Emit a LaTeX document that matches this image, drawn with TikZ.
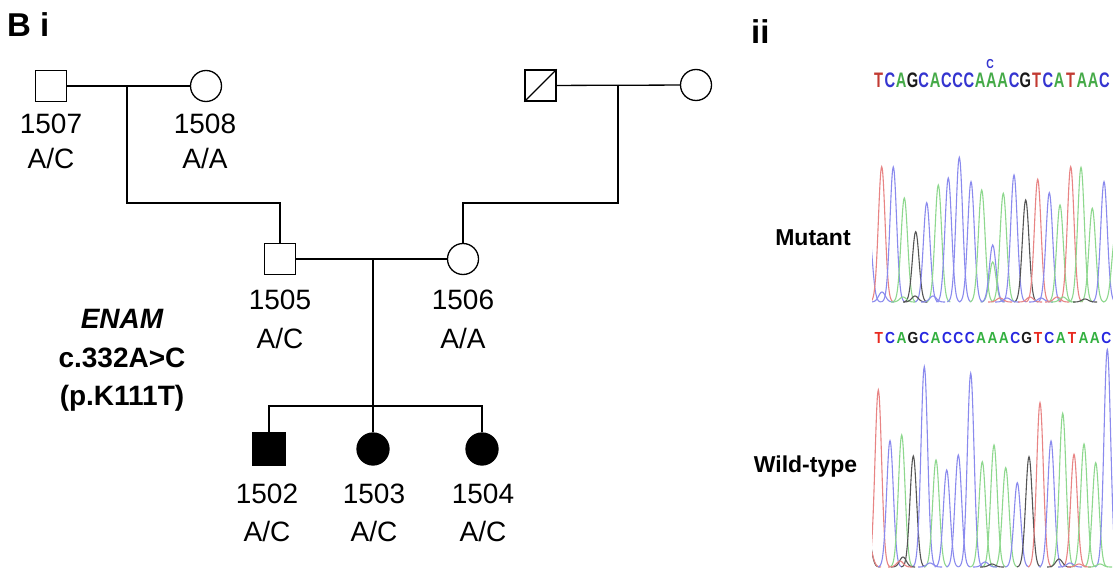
\documentclass[tikz,border=0pt]{standalone}
\usepackage{fontspec}
\setmainfont{Liberation Sans}
\usepackage{graphicx}
\definecolor{cr}{HTML}{E88484}
\definecolor{cb}{HTML}{8A8AEE}
\definecolor{cg}{HTML}{8ED88E}
\definecolor{ck}{HTML}{555555}
\definecolor{tr}{HTML}{C23A32}
\definecolor{tb}{HTML}{3535D0}
\definecolor{tg}{HTML}{45AA48}
\definecolor{tk}{HTML}{1A1A1A}
\definecolor{wr}{HTML}{E82A20}
\definecolor{wb}{HTML}{2828E0}
\definecolor{wg}{HTML}{33B040}
\begin{document}
\begin{tikzpicture}[x=1pt,y=-1pt,
  ped/.style={line width=1.3pt},
  male/.style={ped,draw,rectangle,minimum size=31pt,inner sep=0pt,fill=white},
  female/.style={ped,draw,circle,minimum size=31pt,inner sep=0pt,fill=white},
  lbl/.style={anchor=base,inner sep=0pt,font=\fontsize{28}{34}\selectfont},
  bold/.style={anchor=base,inner sep=0pt,font=\bfseries\fontsize{28}{34}\selectfont},
  panel/.style={anchor=base west,inner sep=0pt,font=\bfseries\fontsize{33}{36}\selectfont},
  side/.style={anchor=base,inner sep=0pt,font=\bfseries\fontsize{23}{26}\selectfont},
  seqtop/.style={anchor=base,inner sep=0pt,font=\bfseries\fontsize{21}{22}\selectfont},
  seqlow/.style={anchor=base,inner sep=0pt,font=\bfseries\fontsize{16}{18}\selectfont},
  chrom/.style={line width=1.1pt}]
\useasboundingbox[fill=white] (0,0) rectangle (1113,572);

% ---------- Panel labels ----------
\node[panel] (pB) at (7,37) {B i};
\node[panel] (pii) at (751,44) {ii};

% ---------- Pedigree ----------
\node[male] (p1507) at (51,86) {};
\node[female] (p1508) at (206,86) {};
\node[male] (pdec) at (540.5,85.5) {};
\node[female] (pmat) at (696,85) {};
\draw[ped] (pdec.south west) -- (pdec.north east);
\node[male] (p1505) at (280,259) {};
\node[female] (p1506) at (463,259) {};
\node[male,minimum size=32pt,fill=black] (p1502) at (269,449) {};
\node[female,minimum size=32pt,fill=black] (p1503) at (373,449) {};
\node[female,minimum size=32pt,fill=black] (p1504) at (482,449) {};

\coordinate (m1) at (127,86);
\coordinate (d1) at (127,203);
\coordinate (m2) at (618,85);
\coordinate (d2) at (618,203);
\coordinate (m3) at (373,259);
\coordinate (sib) at (373,406);

\draw[ped] (p1507) -- (p1508);
\draw[ped] (pdec) -- (pmat);
\draw[ped] (m1) -- (d1) -| (p1505);
\draw[ped] (m2) -- (d2) -| (p1506);
\draw[ped] (p1505) -- (p1506);
\draw[ped] (m3) -- (sib);
\draw[ped] (p1502) |- (sib) -| (p1504);
\draw[ped] (sib) -- (p1503);

% labels
\node[lbl] (l1507) at (51,134) {1507};
\node[lbl] (g1507) at (51,169) {A/C};
\node[lbl] (l1508) at (205,134) {1508};
\node[lbl] (g1508) at (205,169) {A/A};
\node[lbl] (l1505) at (280,309) {1505};
\node[lbl] (g1505) at (280,348) {A/C};
\node[lbl] (l1506) at (463,309) {1506};
\node[lbl] (g1506) at (463,348) {A/A};
\node[lbl] (l1502) at (267,503) {1502};
\node[lbl] (g1502) at (267,541) {A/C};
\node[lbl] (l1503) at (374,503) {1503};
\node[lbl] (g1503) at (374,541) {A/C};
\node[lbl] (l1504) at (483,503) {1504};
\node[lbl] (g1504) at (483,541) {A/C};

\node[bold] (enam) at (122,328) {\itshape ENAM};
\node[bold] (cdna) at (122,367) {c.332A>C};
\node[bold] (prot) at (122,405) {(p.K111T)};

% ---------- Panel ii ----------
\node[side] (mut) at (813,245) {Mutant};
\node[side] (wt) at (805.5,472) {Wild-type};

\node[anchor=base,inner sep=0pt,font=\bfseries\fontsize{13}{14}\selectfont,text=tb] (het) at (990,69) {\scalebox{0.8}[1]{C}};

\foreach \L/\col [count=\i from 0] in {T/tr,C/tb,A/tg,G/tk,C/tb,A/tg,C/tb,C/tb,C/tb,A/tg,A/tg,A/tg,C/tb,G/tk,T/tr,C/tb,A/tg,T/tr,A/tg,A/tg,C/tb}
  \node[seqtop,text=\col] (s\i) at ({878.6+11.29*\i},88) {\scalebox{0.7}[1]{\L}};

\foreach \L/\col [count=\i from 0] in {T/wr,C/wb,A/wg,G/tk,C/wb,A/wg,C/wb,C/wb,C/wb,A/wg,A/wg,A/wg,C/wb,G/tk,T/wr,C/wb,A/wg,T/wr,A/wg,A/wg,C/wb}
  \node[seqlow,text=\col] (w\i) at ({878.7+11.38*\i},343) {\scalebox{0.86}[1]{\L}};

% mutant chromatogram
\begin{scope}
\clip (872,140) rectangle (1113,310);
\foreach \col/\xc/\yt in {cb/869/233, cr/881.7/166.7, cb/893.3/167, cg/904.3/198, ck/915.7/231.7,
  cb/926.7/202.7, cg/938.3/185, cb/948.3/178, cb/959.3/157.3, cb/971/181.7, cg/981.7/190,
  cg/992.7/262, cb/992.7/245, cg/1003.3/193.3, cb/1014/175, ck/1025.7/200, cr/1037.7/179.3,
  cb/1049.3/192.7, cg/1060/205, cr/1070.7/166.7, cg/1081/167.3, cg/1092.3/208.3, cb/1104/181.7,
  cg/1115/238,
  cb/882/292, cg/903/297, ck/915/296, cb/933/296, cr/1000/298, cb/1007/298, cr/1030/297,
  cb/1041/298, cr/1057/297, cg/1063/297, ck/1085/299}
{
  \pgfmathsetmacro\lo{\xc-12}\pgfmathsetmacro\hi{\xc+12}
  \draw[\col,chrom] plot[domain=\lo:\hi,samples=29,smooth] (\x,{302+(\yt-302)*exp(((\x-\xc)^2)/(-22))});
}
\end{scope}

% wild-type chromatogram
\begin{scope}
\clip (872,345) rectangle (1113,572);
\foreach \col/\xc/\yt in {ck/868/537, cr/869/545, cr/878.3/390, cb/890/440.7, cg/901.7/435, ck/913.3/456,
  cb/924.3/366.7, cg/936/460, cb/946.7/470, cb/958.3/455, cb/970.7/373.3, cg/982.3/461.7,
  cg/994/445, cg/1005.7/467.7, cb/1017.3/482.7, ck/1029/456.7, cr/1040/402.7, cb/1051/441,
  cg/1062.7/413.3, cr/1074/454.3, cg/1084/444, cg/1095.7/462.7, cb/1107.3/349.3,
  ck/903/557, cr/900/561, cb/930/563, cb/985/562, ck/992/564, ck/1059/559, cb/1070/563,
  cr/1079/564, cg/1100/564}
{
  \pgfmathsetmacro\lo{\xc-12}\pgfmathsetmacro\hi{\xc+12}
  \draw[\col,chrom] plot[domain=\lo:\hi,samples=29,smooth] (\x,{567+(\yt-567)*exp(((\x-\xc)^2)/(-22))});
}
\end{scope}
\end{tikzpicture}
\end{document}
